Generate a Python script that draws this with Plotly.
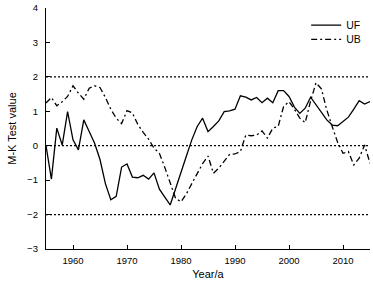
import plotly.graph_objects as go

years = list(range(1955, 2016))

uf = [0.00, -0.97, 0.51, 0.02, 0.99, 0.17, -0.12, 0.75, 0.41, 0.07,
      -0.40, -1.10, -1.57, -1.47, -0.62, -0.53, -0.91, -0.93, -0.86, -0.97,
      -0.79, -1.26, -1.49, -1.72, -1.25, -0.75, -0.30, 0.17, 0.56, 0.80,
      0.41, 0.56, 0.72, 0.99, 1.01, 1.06, 1.45, 1.41, 1.33, 1.40,
      1.25, 1.38, 1.25, 1.60, 1.60, 1.43, 1.12, 0.94, 1.09, 1.41,
      1.19, 0.96, 0.75, 0.60, 0.58, 0.70, 0.83, 1.06, 1.31, 1.21,
      1.28]

ub = [1.24, 1.40, 1.16, 1.28, 1.43, 1.74, 1.53, 1.35, 1.67, 1.74,
      1.69, 1.40, 1.06, 0.80, 0.64, 1.02, 0.95, 0.62, 0.39, 0.19,
      -0.07, -0.22, -0.63, -1.09, -1.53, -1.63, -1.40, -1.10, -0.80, -0.52,
      -0.30, -0.80, -0.65, -0.46, -0.25, -0.24, -0.17, 0.31, 0.29, 0.31,
      0.43, 0.22, 0.51, 0.56, 1.14, 1.28, 1.06, 0.80, 0.67, 1.30,
      1.83, 1.65, 1.04, 0.56, 0.10, -0.22, -0.17, -0.56, -0.36, 0.02,
      -0.51]

ref_levels = [2, 0, -2]
x_ticks = [1960, 1970, 1980, 1990, 2000, 2010]
y_ticks = [-3, -2, -1, 0, 1, 2, 3, 4]

FONT = "Arial, Liberation Sans, sans-serif"
INK = "#000000"

fig = go.Figure()
fig.add_trace(go.Scatter(x=years, y=uf, mode="lines", name="UF", legend="legend",
                         line=dict(color="black", width=1.3)))
fig.add_trace(go.Scatter(x=years, y=ub, mode="lines", name="UB", legend="legend2",
                         line=dict(color="black", width=1.3, dash="6px,3px,2px,3px")))

for lv in ref_levels:
    fig.add_shape(type="line", xref="paper", x0=0, x1=1, yref="y", y0=lv, y1=lv,
                  line=dict(color="black", width=1.2, dash="2px,2px"), layer="below")

legend_style = dict(xanchor="left", yanchor="middle", bgcolor="rgba(0,0,0,0)",
                    font=dict(size=10.5, family=FONT, color=INK), itemwidth=30)

fig.update_layout(
    width=373, height=284,
    margin=dict(l=46, r=3, t=8, b=35, autoexpand=False),
    paper_bgcolor="white", plot_bgcolor="white",
    font=dict(family=FONT, color=INK, size=9),
    showlegend=True,
    legend=dict(x=0.803, y=0.929, **legend_style),
    legend2=dict(x=0.803, y=0.870, **legend_style),
)
fig.update_xaxes(range=[1955, 2015], tickvals=x_ticks, ticks="inside", ticklen=4,
                 tickwidth=1.2, tickcolor="black", showline=True, linecolor="black",
                 linewidth=1.3, showgrid=False, zeroline=False, mirror=False, automargin=False,
                 tickfont=dict(size=9.5, family=FONT, color=INK), ticklabelstandoff=2,
                 title=dict(text="Year/a", font=dict(size=11, family=FONT, color=INK), standoff=5))
fig.update_yaxes(range=[-3, 4], tickvals=y_ticks, ticks="inside", ticklen=4,
                 tickwidth=1.2, tickcolor="black", showline=True, linecolor="black",
                 linewidth=1.3, showgrid=False, zeroline=False, mirror=False, automargin=False,
                 tickfont=dict(size=9.5, family=FONT, color=INK), ticklabelstandoff=5,
                 title=dict(text="M-K Test value", font=dict(size=11, family=FONT, color=INK), standoff=8))

fig.write_html("out.html", config={"displayModeBar": False},
               post_script="document.body.style.margin='0';")
